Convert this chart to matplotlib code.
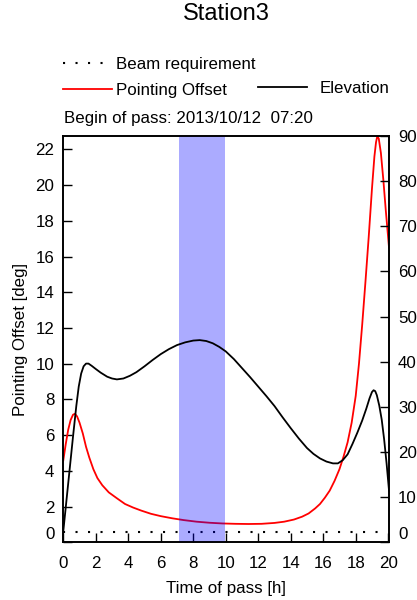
import numpy as np
import matplotlib
matplotlib.use("Agg")
import matplotlib.pyplot as plt

plt.rcParams['font.family'] = ['Liberation Sans', 'DejaVu Sans']

# pointing offset [deg] (left axis)
time_off = [0, 0.15, 0.3, 0.45, 0.6, 0.72, 0.85, 1.0, 1.2, 1.4, 1.6, 1.85, 2.1, 2.4,
            2.8, 3.3, 3.8, 4.3, 4.8, 5.4, 6.0, 6.7, 7.4, 8.2, 9.0, 9.8, 10.6, 11.4,
            12.2, 13.0, 13.6, 14.2, 14.7, 15.1, 15.5, 15.8, 16.1, 16.4, 16.7, 17.0,
            17.25, 17.5, 17.75, 18.0, 18.2, 18.4, 18.6, 18.8, 19.0, 19.15, 19.25,
            19.33, 19.42, 19.55, 19.7, 19.85, 20.05]
offset = [4.6, 5.5, 6.3, 6.85, 7.15, 7.2, 7.05, 6.7, 6.1, 5.35, 4.75, 4.1, 3.6, 3.2,
          2.8, 2.47, 2.15, 1.95, 1.78, 1.6, 1.47, 1.35, 1.25, 1.16, 1.1, 1.06, 1.04,
          1.03, 1.04, 1.09, 1.16, 1.28, 1.44, 1.62, 1.9, 2.15, 2.5, 2.9, 3.45, 4.1,
          4.8, 5.6, 6.7, 8.2, 10.0, 12.2, 14.6, 17.1, 19.8, 21.6, 22.4, 22.75, 22.6,
          21.8, 20.3, 18.6, 16.5]

# elevation [deg] (right axis)
time_el = [0, 0.2, 0.4, 0.6, 0.8, 0.95, 1.1, 1.25, 1.4, 1.55, 1.75, 2.0, 2.3, 2.7,
           3.0, 3.3, 3.7, 4.1, 4.5, 5.0, 5.5, 6.0, 6.5, 7.0, 7.5, 8.0, 8.4, 8.8, 9.2,
           9.6, 10.0, 10.5, 11.0, 11.5, 12.0, 12.5, 13.0, 13.5, 14.0, 14.5, 15.0,
           15.4, 15.8, 16.2, 16.6, 16.9, 17.2, 17.5, 17.8, 18.1, 18.4, 18.65, 18.85,
           19.0, 19.1, 19.2, 19.3, 19.45, 19.6, 19.75, 19.9, 20.05]
elev = [2.5, 9.5, 16.5, 23.5, 30.2, 34.5, 37.4, 39.0, 39.6, 39.6, 39.1, 38.4, 37.6,
        36.7, 36.3, 36.1, 36.3, 36.9, 37.7, 39.0, 40.4, 41.7, 42.8, 43.7, 44.3, 44.7,
        44.8, 44.6, 44.1, 43.3, 42.3, 40.6, 38.6, 36.6, 34.5, 32.4, 30.2, 27.7, 25.3,
        23.0, 20.9, 19.6, 18.6, 17.9, 17.5, 17.5, 18.2, 19.5, 21.8, 24.3, 27.0, 29.6,
        31.9, 33.3, 33.7, 33.5, 32.6, 30.3, 27.2, 22.8, 17.5, 11.5]

# beam requirement and contact window
beam_time = [0, 20]
beam_req = [0.6, 0.6]
window = [7.12, 9.93]

fs = 12.2

fig = plt.figure(figsize=(4.17, 6), dpi=100)
ax = fig.add_axes([0.1518, 0.096, 0.9329 - 0.1518, 0.7733 - 0.096])

beam_line, = ax.plot(beam_time, beam_req, color='black', lw=1.5,
                     ls=(0, (1, 5)), dash_capstyle='butt')
off_line, = ax.plot(time_off, offset, color='red', lw=1.3)
ax.set_xlim(0, 20.05)
ax.set_ylim(0, 22.75)
ax.set_xticks(range(0, 21, 2))
ax.set_yticks(range(0, 23, 2))
ax.set_xlabel('Time of pass [h]', fontsize=fs, labelpad=7)
ax.set_ylabel('Pointing Offset [deg]', fontsize=fs, labelpad=5.5)

ax2 = ax.twinx()
el_line, = ax2.plot(time_el, elev, color='black', lw=1.3)
ax2.axvspan(window[0], window[1], color='blue', alpha=0.33, lw=0)
ax2.set_ylim(0, 90)
ax2.set_yticks(range(0, 91, 10))

for a in (ax, ax2):
    a.tick_params(direction='in', length=6.5, width=1, pad=6.5, labelsize=fs)
    for s in a.spines.values():
        s.set_linewidth(1.2)
ax.tick_params(axis='x', pad=10)

# lift the zero labels a bit, as in the original
ax.get_yticklabels()[0].set_va('bottom')
ax2.get_yticklabels()[0].set_va('bottom')

fig.text(226 / 417, 1 - 14 / 600, 'Station3', ha='center', va='center', fontsize=17)

fig.legend([beam_line, off_line], ['Beam requirement', 'Pointing Offset'],
           loc='upper left', bbox_to_anchor=(63 / 417, 1 - 56.5 / 600), frameon=False,
           fontsize=fs, handlelength=2.9, handletextpad=0.25, borderpad=0,
           borderaxespad=0, labelspacing=0.68)
fig.legend([el_line], ['Elevation'],
           loc='upper left', bbox_to_anchor=(258 / 417, 1 - 81 / 600), frameon=False,
           fontsize=fs, handlelength=2.9, handletextpad=0.75, borderpad=0,
           borderaxespad=0)

fig.text(64 / 417, 1 - 118 / 600, 'Begin of pass: 2013/10/12  07:20',
         va='center', fontsize=fs)

fig.savefig('out.png', dpi=100)
